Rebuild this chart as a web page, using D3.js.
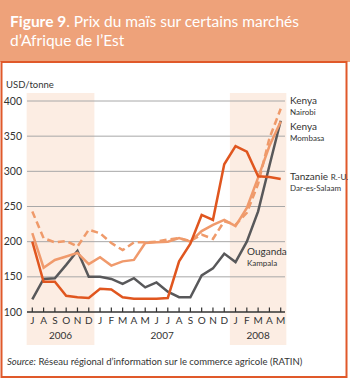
<!DOCTYPE html>
<html>
<head>
<meta charset="utf-8">
<script src="https://cdn.jsdelivr.net/npm/d3@7"></script>
<style>
  body { margin: 0; background: #fff; }
  svg { display: block; font-family: Lato, "Open Sans", sans-serif; }
</style>
</head>
<body>
<div id="chart"></div>
<script>
// mois de juillet 2006 à mai 2008
const months = ["J","A","S","O","N","D","J","F","M","A","M","J","J","A","S","O","N","D","J","F","M","A","M"];
const years = [
  { label: "2006", from: 0, to: 5, shaded: true },
  { label: "2007", from: 6, to: 17, shaded: false },
  { label: "2008", from: 18, to: 22, shaded: true }
];
const yTicks = [100, 150, 200, 250, 300, 350, 400];

const nairobi  = [243, 205, 199, 201, 193, 217, 212, 198, 188, 199, 199, 200, 203, 205, 201, 210, 204, 229, 224, 241, 282, 347, 389];
const mombasa  = [212, 163, 174, 179, 184, 168, 178, 166, 172, 174, 198, 199, 200, 205, 200, 215, 224, 231, 222, 248, 291, 336, 371];
const tanzanie = [200, 143, 143, 123, 121, 120, 133, 132, 121, 119, 119, 119, 120, 172, 197, 238, 231, 310, 336, 328, 293, 292, 289];
const ouganda  = [118, 147, 148, 167, 187, 150, 150, 147, 140, 148, 135, 142, 129, 121, 121, 152, 162, 183, 171, 200, 243, 308, 372];

const W = 350, H = 380;
const svg = d3.select("#chart").append("svg")
  .attr("width", W).attr("height", H);

// en-tête
svg.append("rect").attr("x", 0).attr("y", 0).attr("width", W).attr("height", 62)
  .attr("fill", "#eea27a");
svg.append("rect").attr("x", 1.5).attr("y", 62).attr("width", 345).attr("height", 315)
  .attr("fill", "#fff").attr("stroke", "#e0592a").attr("stroke-width", 2);

const title = svg.append("text").attr("fill", "#fff").attr("font-size", 15.5);
title.append("tspan").attr("x", 10).attr("y", 27).attr("font-weight", "bold").text("Figure 9");
title.append("tspan").text(". Prix du maïs sur certains marchés");
title.append("tspan").attr("x", 10).attr("y", 46).text("d’Afrique de l’Est");

const x = d3.scaleLinear().domain([0, months.length - 1]).range([32.3, 280.7]);
const y = d3.scaleLinear().domain([100, 400]).range([312, 101]);
const step = x(1) - x(0);

// bandes 2006 / 2008
svg.append("g").selectAll("rect")
  .data(years.filter(d => d.shaded))
  .join("rect")
  .attr("x", d => x(d.from) - step / 2)
  .attr("width", d => x(d.to) - x(d.from) + step)
  .attr("y", 93)
  .attr("height", 252)
  .attr("fill", "#fcede3");

// grille
svg.append("g").selectAll("line")
  .data(yTicks.slice(1))
  .join("line")
  .attr("x1", 27).attr("x2", 285)
  .attr("y1", d => y(d)).attr("y2", d => y(d))
  .attr("stroke", "#a8a8a8").attr("stroke-width", 1);

svg.append("g").selectAll("text")
  .data(yTicks)
  .join("text")
  .attr("x", 22).attr("y", d => y(d) + 3.5)
  .attr("text-anchor", "end")
  .attr("font-size", 10.5).attr("fill", "#333")
  .text(d => d);

svg.append("text").attr("x", 6).attr("y", 88)
  .attr("font-size", 9.5).attr("fill", "#333").text("USD/tonne");

// axe des x
svg.append("line").attr("x1", 27).attr("x2", 285)
  .attr("y1", y(100)).attr("y2", y(100))
  .attr("stroke", "#333").attr("stroke-width", 1.5);
svg.append("g").selectAll("line")
  .data(months)
  .join("line")
  .attr("x1", (d, i) => x(i)).attr("x2", (d, i) => x(i))
  .attr("y1", y(100) - 4.5).attr("y2", y(100))
  .attr("stroke", "#333").attr("stroke-width", 1.2);
svg.append("g").selectAll("text")
  .data(months)
  .join("text")
  .attr("x", (d, i) => x(i)).attr("y", 324)
  .attr("text-anchor", "middle")
  .attr("font-size", 10).attr("fill", "#333")
  .text(d => d);
svg.append("g").selectAll("text")
  .data(years)
  .join("text")
  .attr("x", d => (x(d.from) + x(d.to)) / 2).attr("y", 339)
  .attr("text-anchor", "middle")
  .attr("font-size", 10).attr("fill", "#333")
  .text(d => d.label);

// séries
const line = d3.line().x((d, i) => x(i)).y(d => y(d));
const series = [
  { values: ouganda, color: "#58585a", dash: null },
  { values: mombasa, color: "#f09a6c", dash: null },
  { values: nairobi, color: "#ef9a6a", dash: "7,4" },
  { values: tanzanie, color: "#e0561f", dash: null }
];
svg.append("g").selectAll("path")
  .data(series)
  .join("path")
  .attr("d", d => line(d.values))
  .attr("fill", "none")
  .attr("stroke", d => d.color)
  .attr("stroke-width", 2.5)
  .attr("stroke-linejoin", "miter")
  .attr("stroke-dasharray", d => d.dash);

// étiquettes
const labels = [
  { x: 290, y: 104, big: "Kenya", small: "" },
  { x: 290, y: 115, big: "", small: "Nairobi" },
  { x: 290, y: 130, big: "Kenya", small: "" },
  { x: 290, y: 141, big: "", small: "Mombasa" },
  { x: 290, y: 180, big: "Tanzanie ", small: "R.-U." },
  { x: 290, y: 191, big: "", small: "Dar-es-Salaam" },
  { x: 247, y: 255, big: "Ouganda", small: "" },
  { x: 247, y: 266, big: "", small: "Kampala" }
];
const lab = svg.append("g").selectAll("text")
  .data(labels)
  .join("text")
  .attr("x", d => d.x).attr("y", d => d.y)
  .attr("fill", "#333");
lab.append("tspan").attr("font-size", 10).text(d => d.big);
lab.append("tspan").attr("font-size", 8).text(d => d.small);

// source
const src = svg.append("text").attr("x", 7).attr("y", 365)
  .attr("font-size", 9.5).attr("fill", "#333");
src.append("tspan").attr("font-style", "italic").text("Source:");
src.append("tspan").text(" Réseau régional d’information sur le commerce agricole (RATIN)");
</script>
</body>
</html>
